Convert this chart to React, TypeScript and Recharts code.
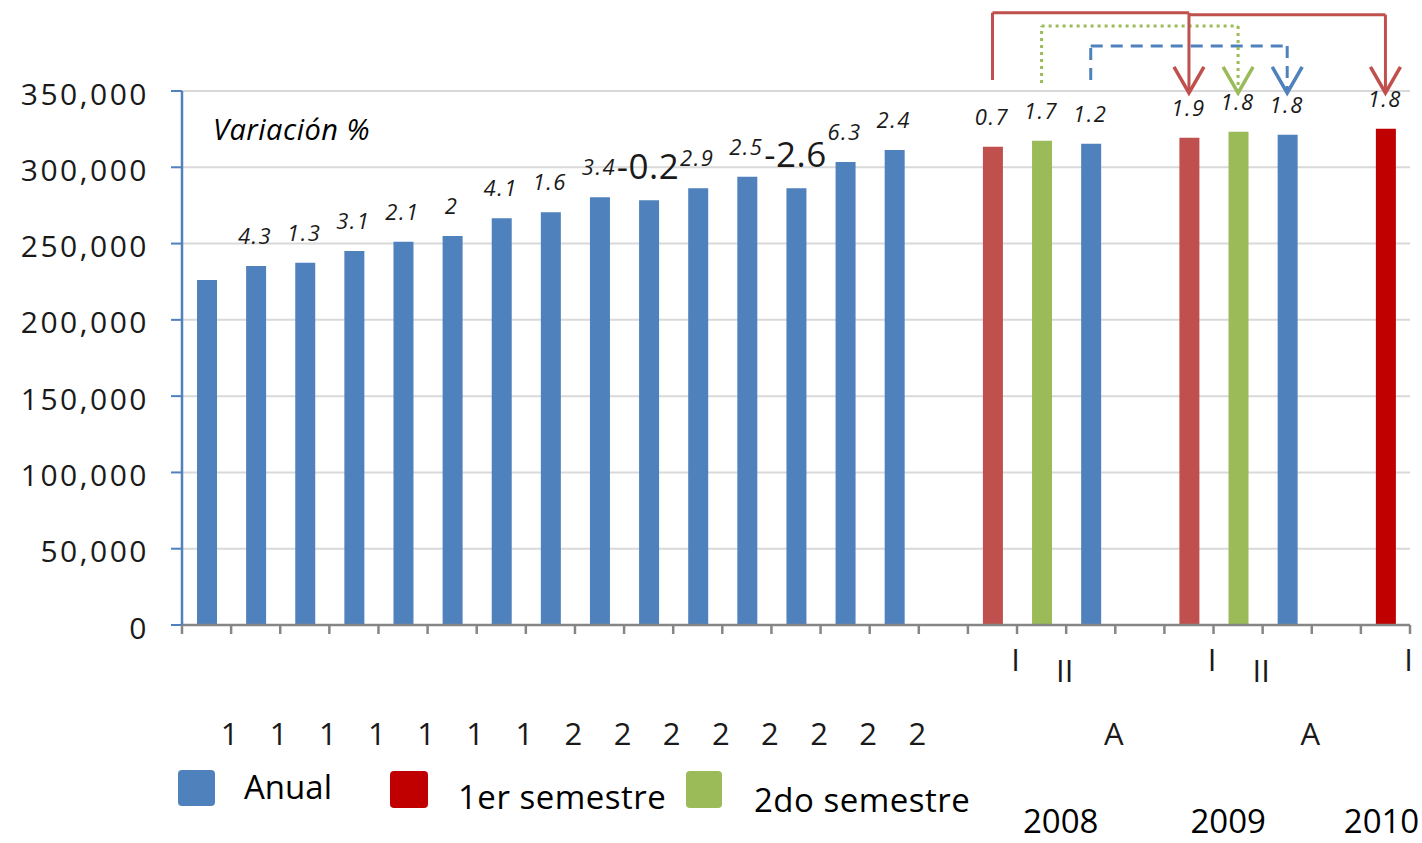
import React from "react";
import {
  Bar,
  BarChart,
  CartesianGrid,
  Cell,
  LabelList,
  ReferenceLine,
  XAxis,
  YAxis,
} from "recharts";

const categories = [
  "1993", "1994", "1995", "1996", "1997", "1998", "1999", "2000",
  "2001", "2002", "2003", "2004", "2005", "2006", "2007", "gap-1",
  "2008 I", "2008 II", "2008 A", "gap-2", "2009 I", "2009 II", "2009 A",
  "gap-3", "2010 I",
];

const values = [
  226100, 235300, 237500, 245100, 251200, 255000, 266600, 270500, 280300,
  278400, 286200, 293800, 286200, 303500, 311300, null, 313500, 317400,
  315500, null, 319400, 323300, 321400, null, 325300,
];

const variation = [
  null, "4.3", "1.3", "3.1", "2.1", "2", "4.1", "1.6", "3.4", "-0.2", "2.9",
  "2.5", "-2.6", "6.3", "2.4", null, "0.7", "1.7", "1.2", null, "1.9", "1.8",
  "1.8", null, "1.8",
];

const series = [
  "anual", "anual", "anual", "anual", "anual", "anual", "anual", "anual",
  "anual", "anual", "anual", "anual", "anual", "anual", "anual", null,
  "sem1", "sem2", "anual", null, "sem1", "sem2", "anual", null, "sem1new",
];

const tickLabels = [
  "1", "1", "1", "1", "1", "1", "1", "2", "2", "2", "2", "2", "2", "2", "2",
  "", "I", "II", "A", "", "I", "II", "A", "", "I",
];

const yearLabels = [
  "", "", "", "", "", "", "", "", "", "", "", "", "", "", "", "", "",
  "2008", "", "", "", "2009", "", "", "2010",
];

const yTicks = [0, 50000, 100000, 150000, 200000, 250000, 300000, 350000];

// comparison arrows between semesters
const arrows = [
  { from: "2008 I", to: "2009 I", base: 357200, top: 401300, color: "#C0504D", dash: undefined },
  { from: "2009 I", to: "2010 I", base: 400000, top: 400000, color: "#C0504D", dash: undefined },
  { from: "2008 II", to: "2009 II", base: 355200, top: 392600, color: "#9BBB59", dash: "3 4" },
  { from: "2008 A", to: "2009 A", base: 357200, top: 379500, color: "#4F81BD", dash: "12 8" },
];
const arrowTip = 348700;

const COLORS: Record<string, string> = {
  anual: "#4F81BD",
  sem1: "#C0504D",
  sem2: "#9BBB59",
  sem1new: "#C00000",
};

const W = 1422;
const H = 843;
const MARGIN = { top: 91, right: 12, left: 0, bottom: 0 };
const Y_W = 182;
const BAND = (W - MARGIN.left - MARGIN.right - Y_W) / categories.length;
const FONT = "'Open Sans', 'DejaVu Sans', sans-serif";

const data = categories.map((c, i) => ({
  name: c,
  value: values[i],
  label: variation[i],
  kind: series[i],
}));

function XTick(props: any) {
  const { x, y, payload } = props;
  const i = payload.index;
  const label = tickLabels[i];
  const year = yearLabels[i];
  let ly = y + 108;
  if (label === "I") ly = y + 34;
  if (label === "II") ly = y + 45;
  const yearDx: Record<string, number> = { "2008": 0.39, "2009": -0.2, "2010": -0.08 };
  return (
    <g>
      <line x1={x - BAND / 2} x2={x - BAND / 2} y1={y} y2={y + 9} stroke="#868686" strokeWidth={2.5} />
      {i === categories.length - 1 && (
        <line x1={x + BAND / 2} x2={x + BAND / 2} y1={y} y2={y + 9} stroke="#868686" strokeWidth={2.5} />
      )}
      {label && (
        <text x={x + BAND / 2 - 1.5} y={ly} textAnchor="middle" dominantBaseline="central"
          fontFamily={FONT} fontSize={31} fill="#1a1a1a">
          {label}
        </text>
      )}
      {year && (
        <text x={x + BAND * yearDx[year]} y={y + 195} textAnchor="middle" dominantBaseline="central"
          fontFamily={FONT} fontSize={33} fill="#000">
          {year}
        </text>
      )}
    </g>
  );
}

function YTick(props: any) {
  const { x, y, payload } = props;
  return (
    <text x={x} y={y + 2} textAnchor="end" dominantBaseline="central" fontFamily={FONT}
      fontSize={30} letterSpacing={2.5} fill="#1a1a1a">
      {Number(payload.value).toLocaleString("en-US")}
    </text>
  );
}

function renderLabel(props: any) {
  const { x, y, width, value } = props;
  if (value == null || value === "") return null;
  const big = String(value).startsWith("-");
  return (
    <text
      x={Number(x) + Number(width) / 2 - 1}
      y={Number(y) - (big ? 35 : 31)}
      textAnchor="middle"
      dominantBaseline="central"
      fontFamily={FONT}
      fontSize={big ? 35 : 22}
      fontStyle={big ? "normal" : "italic"}
      letterSpacing={big ? 0.5 : 1.5}
      fill="#1a1a1a"
    >
      {value}
    </text>
  );
}

const arrowShape = (color: string, dash?: string) => (p: any) => (
  <g>
    <line x1={p.x1} y1={p.y1} x2={p.x2} y2={p.y2} stroke={color} strokeWidth={3} strokeDasharray={dash} />
    <polyline
      points={`${p.x2 - 15},${p.y2 - 26} ${p.x2},${p.y2} ${p.x2 + 15},${p.y2 - 26}`}
      fill="none"
      stroke={color}
      strokeWidth={3.5}
    />
  </g>
);

export default function App() {
  return (
    <div style={{ position: "absolute", left: 0, top: 0, width: W, height: H, background: "#fff" }}>
      <BarChart width={W} height={H} data={data} margin={MARGIN}>
        <CartesianGrid vertical={false} stroke="#D9D9D9" strokeWidth={2} />
        <XAxis
          dataKey="name"
          interval={0}
          height={H - 625}
          tickSize={0}
          tickMargin={0}
          tickLine={false}
          axisLine={{ stroke: "#868686", strokeWidth: 2.5 }}
          tick={<XTick />}
        />
        <YAxis
          width={Y_W}
          domain={[0, 350000]}
          ticks={yTicks}
          interval={0}
          tickSize={11}
          tickMargin={22}
          tickLine={{ stroke: "#4F81BD", strokeWidth: 2 }}
          axisLine={{ stroke: "#4F81BD", strokeWidth: 2.5 }}
          tick={<YTick />}
        />
        <Bar dataKey="value" barSize={20} isAnimationActive={false}>
          {data.map((d, i) => (
            <Cell key={i} fill={d.kind ? COLORS[d.kind] : "none"} />
          ))}
          <LabelList dataKey="label" content={renderLabel} />
        </Bar>
        {arrows.map((a, i) =>
          a.top > a.base ? (
            <ReferenceLine
              key={`up-${i}`}
              ifOverflow="visible"
              segment={[{ x: a.from, y: a.base }, { x: a.from, y: a.top }]}
              stroke={a.color}
              strokeWidth={3}
              strokeDasharray={a.dash}
            />
          ) : null
        )}
        {arrows.map((a, i) => (
          <ReferenceLine
            key={`across-${i}`}
            ifOverflow="visible"
            segment={[{ x: a.from, y: a.top }, { x: a.to, y: a.top }]}
            stroke={a.color}
            strokeWidth={3}
            strokeDasharray={a.dash}
          />
        ))}
        {arrows.map((a, i) => (
          <ReferenceLine
            key={`down-${i}`}
            ifOverflow="visible"
            segment={[{ x: a.to, y: a.top }, { x: a.to, y: arrowTip }]}
            shape={arrowShape(a.color, a.dash)}
          />
        ))}
      </BarChart>
      <svg width={W} height={H} style={{ position: "absolute", left: 0, top: 0, pointerEvents: "none" }}>
        <text x={213} y={128} dominantBaseline="central" fontFamily={FONT} fontSize={29}
          fontStyle="italic" letterSpacing={0.5} fill="#000">
          Variación %
        </text>
        <rect x={178} y={770} width={37} height={36} rx={4} fill="#4F81BD" />
        <text x={244} y={786} dominantBaseline="central" fontFamily={FONT} fontSize={33} fill="#000">
          Anual
        </text>
        <rect x={390} y={771} width={38} height={37} rx={4} fill="#C00000" />
        <text x={458} y={796} dominantBaseline="central" fontFamily={FONT} fontSize={33}
          letterSpacing={0.5} fill="#000">
          1er semestre
        </text>
        <rect x={686} y={771} width={36} height={37} rx={4} fill="#9BBB59" />
        <text x={754} y={799} dominantBaseline="central" fontFamily={FONT} fontSize={33}
          letterSpacing={0.5} fill="#000">
          2do semestre
        </text>
      </svg>
    </div>
  );
}
